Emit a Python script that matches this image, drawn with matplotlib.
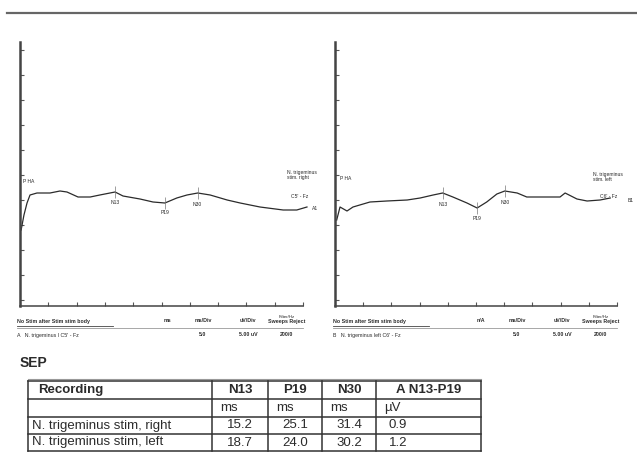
import numpy as np
import matplotlib
matplotlib.use("Agg")
import matplotlib.pyplot as plt

plt.rcParams["font.family"] = ["Liberation Sans", "DejaVu Sans"]

W, H = 637, 453
INK = "#2b2b2b"

# --- SEP traces (time in ms, amplitude in uV) ---
right_stim_ms = [0.2, 0.7, 1.24, 1.77, 3.0, 5.3, 7.07, 8.3, 10.25, 12.4, 14.1, 16.8, 18.2,
                 21.2, 23.5, 25.6, 27.7, 29.5, 31.4, 33.6, 36.6, 38.9, 42.4, 46.5, 48.9, 50.7]
right_stim_uv = [-2.4, -1.2, -0.24, 0.4, 0.56, 0.56, 0.72, 0.64, 0.24, 0.24, 0.4, 0.64, 0.32,
                 0.08, -0.16, -0.24, 0.16, 0.4, 0.56, 0.4, 0.0, -0.24, -0.56, -0.8, -0.8, -0.56]
left_stim_ms = [0.3, 0.89, 2.13, 3.19, 6.2, 9.2, 12.8, 15.1, 17.4, 19.1, 20.9, 23.4, 25.2,
                26.9, 28.7, 30.1, 32.3, 34.0, 36.3, 39.9, 40.8, 42.9, 44.7, 47.0, 48.8]
left_stim_uv = [-1.6, -0.56, -0.88, -0.56, -0.16, -0.08, 0.0, 0.16, 0.4, 0.56, 0.24, -0.24, -0.64,
                -0.16, 0.48, 0.72, 0.56, 0.24, 0.24, 0.24, 0.56, 0.08, -0.08, 0.0, 0.16]
peak_names = ["N13", "P19", "N30"]
right_peaks_ms = [16.8, 25.6, 31.4]
left_peaks_ms = [19.1, 25.2, 30.1]

# --- result table ---
table_cols = ["Recording", "N13", "P19", "N30", "A N13-P19"]
table_units = ["", "ms", "ms", "ms", "µV"]
table_rows = ["N. trigeminus stim, right", "N. trigeminus stim, left"]
n13_ms = [15.2, 18.7]
p19_ms = [25.1, 24.0]
n30_ms = [31.4, 30.2]
amp_uv = [0.9, 1.2]

fig = plt.figure(figsize=(W / 100, H / 100), dpi=100)
fig.patch.set_facecolor("white")

# page overlay in pixel coordinates
page = fig.add_axes([0, 0, 1, 1])
page.set_xlim(0, W)
page.set_ylim(H, 0)
page.axis("off")


def rect(x0, y0, x1, y1):
    return [x0 / W, 1 - y1 / H, (x1 - x0) / W, (y1 - y0) / H]


page.plot([7, W], [13, 13], color="#666666", lw=1.6)

Y_TOP, Y_BOT = 42, 306
UV_PER_PX = 0.08


def panel(x0, x1, ms, uv, peaks):
    ax = fig.add_axes(rect(x0, Y_TOP, x1, Y_BOT))
    ax.set_facecolor("none")
    ax.set_xlim(0, 50)
    ax.set_ylim((200 - Y_BOT) * UV_PER_PX, (200 - Y_TOP) * UV_PER_PX)
    for s in ["top", "right"]:
        ax.spines[s].set_visible(False)
    ax.spines["left"].set_linewidth(1.8)
    ax.spines["left"].set_color("#444444")
    ax.spines["bottom"].set_linewidth(1.1)
    ax.spines["bottom"].set_color("#444444")
    ax.set_xticks(np.arange(0, 51, 5))
    ax.set_yticks(np.arange(-8, 13, 2))
    ax.tick_params(direction="in", length=3, width=0.8, colors="#555555",
                   labelbottom=False, labelleft=False)
    ax.plot(ms, uv, color=INK, lw=0.9, clip_on=False)
    offs = [-11, -10, -12]
    for name, t, off in zip(peak_names, peaks, offs):
        a = np.interp(t, ms, uv)
        ax.plot(t, a, marker="|", ms=8, mew=0.5, color="#777777")
        ax.annotate(name, (t, a), textcoords="offset points", xytext=(0, off * 0.72),
                    ha="center", va="center", fontsize=3.6, color=INK)
    return ax


panel(20, 303, right_stim_ms, right_stim_uv, right_peaks_ms)
panel(335, 617, left_stim_ms, left_stim_uv, left_peaks_ms)

small = dict(fontsize=3.6, color=INK)
page.text(23, 183, "P HA", **small)
page.text(340, 180, "P HA", **small)
page.text(287, 175, "N. trigeminus\nstim. right", ha="left", va="center", linespacing=1.1, **small)
page.text(593, 177, "N. trigeminus\nstim. left", ha="left", va="center", linespacing=1.1, **small)
page.text(291, 197, "C5' - Fz", ha="left", va="center", **small)
page.text(600, 197, "C6' - Fz", ha="left", va="center", **small)
page.text(312, 208, "A1", ha="left", va="center", **small)
page.text(628, 201, "B1", ha="left", va="center", **small)

# footers under the panels
foot = dict(fontsize=3.8, color=INK, va="center")
for x0, x1, first, code, lab in [(17, 303, "ms", "A", "N. trigeminus l C5' - Fz"),
                                 (333, 617, "n/A", "B", "N. trigeminus left C6' - Fz")]:
    page.text(x0, 321, "No Stim after Stim stim body", fontweight="bold", **foot)
    page.plot([x0, x0 + 96], [326, 326], color="#444444", lw=0.6)
    page.plot([x0, x1], [328, 328], color="#999999", lw=0.6)
    page.text(x1 - 136, 321, first, ha="center", fontweight="bold", **foot)
    page.text(x1 - 100, 321, "ms/Div", ha="center", fontweight="bold", **foot)
    page.text(x1 - 55, 321, "uV/Div", ha="center", fontweight="bold", **foot)
    page.text(x1 - 16, 317, "Filter/Hz", ha="center", fontsize=3.2, color=INK, va="center")
    page.text(x1 - 16, 322, "Sweeps Reject", ha="center", fontweight="bold", **foot)
    page.text(x0, 335, code + "   " + lab, **foot)
    page.text(x1 - 100, 335, "5.0", ha="center", fontweight="bold", **foot)
    page.text(x1 - 55, 335, "5.00 uV", ha="center", fontweight="bold", **foot)
    page.text(x1 - 16, 335, "200/0", ha="center", fontweight="bold", **foot)

# SEP table
page.text(20, 363, "SEP", fontsize=10, fontweight="bold", color=INK, va="center")

xs = [28, 212, 268, 322, 376, 481]
ys = [381, 399, 417, 434, 451]
lc = "#333333"
page.plot([xs[0], xs[-1]], [ys[0] - 2, ys[0] - 2], color="#999999", lw=0.8)
for y in ys:
    page.plot([xs[0], xs[-1]], [y, y], color=lc, lw=1.1)
for x in xs:
    page.plot([x, x], [ys[0], ys[-1]], color=lc, lw=1.1)

tfs = 9.5
for j, name in enumerate(table_cols):
    if j == 0:
        page.text(xs[0] + 10, (ys[0] + ys[1]) / 2, name, fontsize=tfs, fontweight="bold",
                  color=INK, ha="left", va="center")
    else:
        page.text((xs[j] + xs[j + 1]) / 2, (ys[0] + ys[1]) / 2, name, fontsize=tfs,
                  fontweight="bold", color=INK, ha="center", va="center")
for j, u in enumerate(table_units):
    if u:
        page.text(xs[j] + 8, (ys[1] + ys[2]) / 2, u, fontsize=tfs, color=INK,
                  ha="left", va="center")
for i, label in enumerate(table_rows):
    yc = (ys[i + 2] + ys[i + 3]) / 2
    page.text(xs[0] + 4, yc, label, fontsize=tfs, color=INK, ha="left", va="center")
    vals = [n13_ms[i], p19_ms[i], n30_ms[i]]
    for j, v in enumerate(vals, start=1):
        page.text((xs[j] + xs[j + 1]) / 2, yc, f"{v:.1f}", fontsize=tfs, color=INK,
                  ha="center", va="center")
    page.text(xs[4] + 22, yc, f"{amp_uv[i]:.1f}", fontsize=tfs, color=INK,
              ha="center", va="center")

fig.savefig("out.png", dpi=100)
